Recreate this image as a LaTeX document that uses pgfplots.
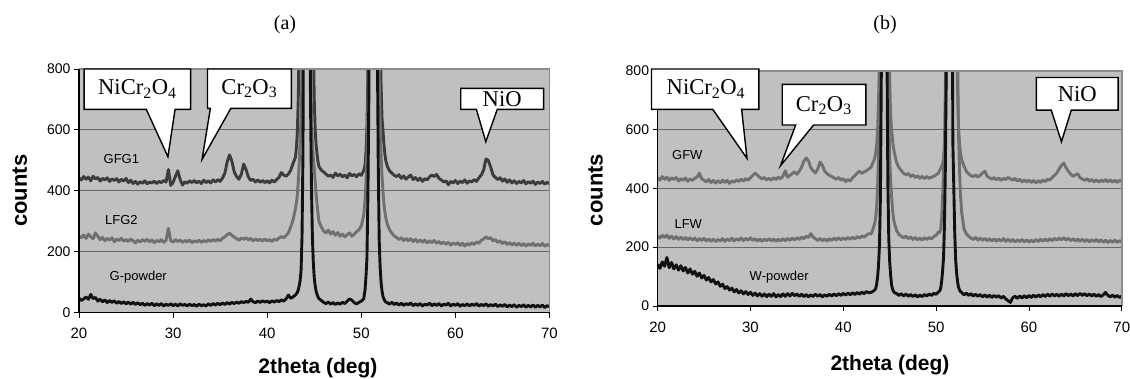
\documentclass[border=0pt]{standalone}
\usepackage{pgfplots}
\usepackage{pgfplotstable}
\pgfplotsset{compat=1.18}
\usepackage{fontspec}
\setmainfont{Liberation Serif}
\newfontfamily\arial{Liberation Sans}
\definecolor{bgc}{HTML}{C0C0C0}
\definecolor{gridc}{HTML}{686868}
\definecolor{framec}{HTML}{8C8C8C}
\definecolor{darkc}{HTML}{3C3C3C}
\definecolor{midc}{HTML}{707070}
\definecolor{blkc}{HTML}{111111}

\pgfplotstableread{
x g1 l2 gp
20.00 442 252 48
20.25 436 246 40
20.50 447 255 45
20.75 438 244 52
21.00 445 258 44
21.25 433 249 60
21.50 448 243 46
21.75 439 262 50
22.00 444 251 38
22.25 432 240 44
22.50 441 247 36
22.75 436 236 42
23.00 443 244 33
23.25 431 238 40
23.50 439 246 34
23.75 434 233 39
24.00 440 241 31
24.25 429 237 37
24.50 438 244 30
24.75 432 235 36
25.00 441 240 29
25.25 427 234 35
25.50 435 242 28
25.75 424 236 34
26.00 431 229 27
26.25 422 238 33
26.50 430 232 26
26.75 425 240 31
27.00 433 234 24
27.25 423 241 30
27.50 429 233 25
27.75 426 239 31
28.00 432 230 23
28.25 424 237 29
28.50 431 233 24
28.75 427 240 30
29.00 434 231 22
29.25 429 238 28
29.50 470 277 24
29.75 418 236 29
30.00 428 232 23
30.25 448 240 28
30.50 466 234 22
30.75 437 238 29
31.00 419 231 24
31.25 430 237 27
31.50 425 233 22
31.75 433 239 28
32.00 427 230 23
32.25 434 236 27
32.50 426 232 21
32.75 432 238 28
33.00 424 231 23
33.25 435 237 26
33.50 427 233 22
33.75 433 239 29
34.00 426 234 24
34.25 436 240 30
34.50 429 235 25
34.75 437 241 31
35.00 431 236 26
35.25 442 244 32
35.50 458 249 27
35.75 495 256 33
36.00 518 261 28
36.25 497 254 34
36.50 462 248 30
36.75 447 243 35
37.00 438 238 31
37.25 455 245 36
37.50 488 241 33
37.75 470 246 37
38.00 446 239 34
38.25 434 244 45
38.50 438 236 36
38.75 429 242 33
39.00 436 237 38
39.25 428 241 34
39.50 434 235 39
39.75 427 242 35
40.00 433 236 38
40.25 426 240 33
40.50 435 234 39
40.75 429 241 35
41.00 437 238 40
41.25 444 245 36
41.50 460 250 42
41.75 452 246 38
42.00 448 253 45
42.25 455 262 58
42.50 468 282 47
42.75 490 305 52
43.0 510 340 58
43.1 540 360 62
43.2 590 385 66
43.3 700 430 75
43.4 900 490 88
43.5 1200 560 105
43.6 1600 660 140
43.7 2200 820 250
43.8 3000 1100 520
43.9 3000 1600 1300
44.0 3000 2500 3000
44.1 3000 2500 3000
44.2 3000 2500 3000
44.3 3000 2500 3000
44.4 3000 2500 3000
44.5 3000 2500 1500
44.6 3000 1000 700
44.7 1900 640 420
44.8 1300 560 250
44.9 900 510 165
45.0 700 475 115
45.1 600 430 88
45.2 550 390 70
45.3 520 355 60
45.4 495 325 52
45.5 480 300 46
45.75 468 282 40
46.00 462 268 34
46.25 455 262 30
46.50 448 271 35
46.75 452 258 28
47.00 444 266 33
47.25 458 254 27
47.50 449 263 32
47.75 455 251 28
48.00 446 258 34
48.25 452 249 30
48.50 443 256 38
48.75 457 262 45
49.00 449 251 41
49.25 454 258 33
49.50 446 266 29
49.75 456 272 34
50.00 451 285 38
50.25 466 318 45
50.4 485 370 75
50.5 530 430 120
50.6 610 520 180
50.7 780 680 380
50.8 1100 950 700
50.9 1800 1500 1500
51.0 3000 2500 3000
51.1 3000 2500 3000
51.2 3000 2500 3000
51.3 3000 2500 3000
51.4 3000 2500 3000
51.5 3000 2500 3000
51.6 3000 2500 1800
51.7 3000 1600 900
51.8 2000 1050 490
51.9 1300 780 240
52.0 950 620 150
52.1 750 520 100
52.2 640 450 72
52.3 600 400 54
52.4 555 360 45
52.5 522 332 39
52.6 500 312 35
52.75 482 292 33
53.00 466 272 28
53.25 458 261 34
53.50 451 252 27
53.75 447 247 32
54.00 453 240 25
54.25 441 246 31
54.50 449 237 24
54.75 438 244 30
55.00 446 236 26
55.25 452 243 32
55.50 437 234 23
55.75 444 241 29
56.00 434 232 24
56.25 442 239 30
56.50 431 231 22
56.75 440 238 28
57.00 436 229 25
57.25 446 236 31
57.50 452 230 23
57.75 447 237 29
58.00 454 228 24
58.25 441 234 30
58.50 436 226 22
58.75 429 232 28
59.00 433 225 25
59.25 420 231 31
59.50 431 222 22
59.75 426 229 28
60.00 434 224 24
60.25 424 230 30
60.50 432 221 21
60.75 427 228 27
61.00 436 219 23
61.25 425 227 29
61.50 433 222 22
61.75 429 230 28
62.00 437 224 24
62.25 431 232 30
62.50 443 228 22
62.75 452 238 27
63.00 468 242 23
63.25 505 249 29
63.50 500 243 21
63.75 478 246 27
64.00 452 236 22
64.25 444 240 28
64.50 437 231 20
64.75 443 236 26
65.00 432 227 21
65.25 439 233 27
65.50 428 224 19
65.75 436 230 25
66.00 426 222 20
66.25 433 229 26
66.50 424 221 18
66.75 431 228 24
67.00 426 220 20
67.25 434 227 26
67.50 423 219 18
67.75 430 226 24
68.00 425 221 19
68.25 432 228 25
68.50 421 219 18
68.75 429 225 24
69.00 424 220 19
69.25 431 227 25
69.50 422 218 17
69.75 428 224 23
70.00 424 220 20
}\tabA

\pgfplotstableread{
x gf lf wp
20.00 436 238 142
20.25 428 231 128
20.50 440 240 150
20.75 431 233 135
21.00 438 241 165
21.25 427 230 130
21.50 436 237 148
21.75 430 228 126
22.00 437 236 140
22.25 425 227 122
22.50 433 234 137
22.75 428 226 119
23.00 435 233 131
23.25 424 225 112
23.50 432 232 126
23.75 427 224 108
24.00 434 231 118
24.25 438 222 101
24.50 452 229 112
24.75 432 223 95
25.00 428 230 104
25.25 422 221 88
25.50 430 228 97
25.75 420 220 82
26.00 427 227 90
26.25 418 219 75
26.50 426 226 82
26.75 419 221 67
27.00 428 229 74
27.25 420 220 59
27.50 427 228 66
27.75 417 222 54
28.00 425 230 61
28.25 421 221 48
28.50 429 229 56
28.75 423 223 44
29.00 431 231 52
29.25 425 222 41
29.50 433 230 49
29.75 428 224 39
30.00 436 232 47
30.25 444 223 36
30.50 452 229 44
30.75 445 221 34
31.00 438 228 42
31.25 432 220 33
31.50 437 227 41
31.75 429 222 32
32.00 434 229 40
32.25 428 221 33
32.50 436 228 42
32.75 430 220 31
33.00 438 227 39
33.25 433 221 32
33.50 441 229 41
33.75 460 222 33
34.00 438 230 42
34.25 444 223 34
34.50 450 231 43
34.75 456 224 35
35.00 448 232 41
35.25 458 226 33
35.50 472 234 40
35.75 492 229 32
36.00 503 237 39
36.25 494 233 31
36.50 470 246 38
36.75 460 234 32
37.00 452 229 40
37.25 466 223 33
37.50 490 230 39
37.75 478 222 31
38.00 458 228 38
38.25 450 221 33
38.50 444 229 40
38.75 440 223 34
39.00 436 231 41
39.25 431 224 35
39.50 437 232 42
39.75 428 225 36
40.00 433 231 43
40.25 423 226 37
40.50 430 233 44
40.75 425 227 38
41.00 436 234 45
41.25 443 228 39
41.50 452 236 46
41.75 458 231 40
42.00 451 238 47
42.25 456 234 42
42.50 460 241 49
42.75 466 246 45
43.0 472 245 46
43.1 480 252 48
43.2 488 262 50
43.3 494 272 52
43.4 505 283 55
43.5 525 305 60
43.6 550 340 75
43.7 600 410 100
43.8 700 520 140
43.9 850 700 210
44.0 1200 1000 370
44.1 2500 2500 800
44.2 2500 2500 3000
44.3 2500 2500 3000
44.4 2500 2500 3000
44.5 2500 2500 3000
44.6 2500 2500 3000
44.7 2500 2500 900
44.8 2500 1500 420
44.9 1000 650 230
45.0 760 500 150
45.1 650 425 105
45.2 600 375 72
45.3 565 330 58
45.4 540 300 50
45.5 522 282 46
45.75 488 256 42
46.00 470 243 36
46.25 460 237 42
46.50 451 232 34
46.75 446 238 41
47.00 451 229 33
47.25 440 235 39
47.50 446 226 32
47.75 437 233 38
48.00 443 225 31
48.25 434 231 37
48.50 441 224 32
48.75 433 232 39
49.00 440 226 34
49.25 434 233 41
49.50 438 228 36
49.75 441 236 43
50.00 446 240 40
50.25 452 252 48
50.4 462 250 52
50.5 468 262 62
50.6 475 300 85
50.7 483 372 120
50.8 500 460 165
50.9 540 560 280
51.0 620 750 480
51.1 800 1100 850
51.2 1300 2500 3000
51.3 2500 2500 3000
51.4 2500 2500 3000
51.5 2500 2500 3000
51.6 2500 2500 3000
51.7 2500 2500 1500
51.8 2500 2500 560
51.9 2500 2500 410
52.0 2500 2500 255
52.1 2500 2500 160
52.2 1100 2500 115
52.3 750 900 85
52.4 620 600 65
52.5 560 485 56
52.6 525 390 50
52.75 498 320 46
53.00 475 262 38
53.25 458 246 44
53.50 449 237 36
53.75 443 231 42
54.00 440 226 34
54.25 446 233 40
54.50 438 224 33
54.75 445 231 39
55.00 452 223 31
55.25 458 230 38
55.50 441 222 30
55.75 436 229 37
56.00 431 221 29
56.25 437 228 36
56.50 429 220 30
56.75 435 227 35
57.00 427 221 27
57.25 434 229 33
57.50 430 220 24
57.75 437 227 18
58.00 432 219 12
58.25 428 226 28
58.50 434 218 33
58.75 425 225 26
59.00 431 219 34
59.25 422 226 27
59.50 429 218 35
59.75 421 225 28
60.00 428 217 36
60.25 420 224 29
60.50 427 218 37
60.75 419 226 30
61.00 426 219 38
61.25 420 227 31
61.50 428 220 39
61.75 423 228 32
62.00 431 221 40
62.25 428 229 33
62.50 437 222 41
62.75 444 230 34
63.00 452 224 40
63.25 466 231 33
63.50 478 225 41
63.75 486 232 34
64.00 470 224 42
64.25 458 230 35
64.50 448 222 41
64.75 441 229 34
65.00 446 221 42
65.25 450 228 35
65.50 436 220 43
65.75 432 227 36
66.00 427 219 42
66.25 433 226 35
66.50 424 218 41
66.75 430 225 34
67.00 422 219 40
67.25 429 226 33
67.50 421 218 39
67.75 428 225 32
68.00 423 217 38
68.25 430 224 46
68.50 422 216 36
68.75 429 223 31
69.00 421 217 37
69.25 428 224 30
69.50 420 216 36
69.75 427 222 29
70.00 424 218 34
}\tabB

\pgfplotsset{
  xrdaxis/.style={
    anchor=south west, scale only axis,
    xmin=20, xmax=70, ymin=0, ymax=800,
    xtick={20,30,40,50,60,70}, ytick={0,200,400,600,800},
    xtick pos=bottom, ytick pos=left,
    tick align=outside, major tick length=5pt,
    tick style={black, line width=0.9pt},
    ymajorgrids, grid style={color=gridc, line width=1pt},
    axis background/.style={fill=bgc},
    axis line style={draw=none},
    ticklabel style={text=black},
    yticklabel style={font=\arial\fontsize{14}{15}\selectfont},
    xticklabel style={font=\arial\fontsize{15}{16}\selectfont, yshift=-7pt},
    /pgf/number format/assume math mode=true,
    clip mode=individual,
    every axis plot/.append style={line width=2.9pt, line join=round, mark=none},
  },
}
\tikzset{callout/.style={draw=black, fill=white, line width=1.4pt, line join=miter}}
\newcommand{\callfont}{\fontsize{22.6}{24}\selectfont}
\newcommand{\labfont}{\arial\fontsize{13}{14}\selectfont}

\begin{document}
\begin{tikzpicture}
\useasboundingbox (0pt,0pt) rectangle (1130pt,379pt);

% ---------- panel (a)
\begin{axis}[xrdaxis, at={(79pt,66.3pt)}, width=470.5pt, height=243.7pt]
\addplot[darkc] table[x=x,y=g1] {\tabA};
\addplot[midc] table[x=x,y=l2] {\tabA};
\addplot[blkc] table[x=x,y=gp] {\tabA};
\draw[framec, line width=1.8pt] (rel axis cs:0,1) -- (rel axis cs:1,1) -- (rel axis cs:1,0);
\draw[black, line width=1.1pt] (rel axis cs:0,1) -- (rel axis cs:0,0) -- (rel axis cs:1,0);
\draw[callout] (axis cs:20.54,667.6) -- (axis cs:27.15,667.6) -- (axis cs:29.45,512) -- (axis cs:30.21,667.6) -- (axis cs:31.86,667.6) -- (axis cs:31.86,800) -- (axis cs:20.54,800) -- cycle;
\node[font=\callfont] at (axis cs:26.2,734) {NiCr\textsubscript{2}O\textsubscript{4}};
\draw[callout] (axis cs:33.66,670.9) -- (axis cs:33.96,670.9) -- (axis cs:33.08,503.4) -- (axis cs:36.14,670.9) -- (axis cs:42.57,670.9) -- (axis cs:42.57,800) -- (axis cs:33.66,800) -- cycle;
\node[font=\callfont] at (axis cs:38.1,735) {Cr\textsubscript{2}O\textsubscript{3}};
\draw[callout] (axis cs:60.57,667.6) -- (axis cs:62.23,667.6) -- (axis cs:63.23,561.4) -- (axis cs:64.45,667.6) -- (axis cs:69.37,667.6) -- (axis cs:69.37,736.5) -- (axis cs:60.57,736.5) -- cycle;
\node[font=\callfont] at (axis cs:64.97,702) {NiO};
\node[font=\labfont] at (axis cs:24.5,503) {GFG1};
\node[font=\labfont] at (axis cs:24.5,304) {LFG2};
\node[font=\labfont] at (axis cs:26.3,116) {G-powder};
\end{axis}

% ---------- panel (b)
\begin{axis}[xrdaxis, at={(657.6pt,73pt)}, width=464.2pt, height=235.3pt]
\addplot[midc] table[x=x,y=gf] {\tabB};
\addplot[midc] table[x=x,y=lf] {\tabB};
\addplot[blkc] table[x=x,y=wp] {\tabB};
\draw[framec, line width=1.8pt] (rel axis cs:0,1) -- (rel axis cs:1,1) -- (rel axis cs:1,0);
\draw[black, line width=1.1pt] (rel axis cs:0,1) -- (rel axis cs:0,0) -- (rel axis cs:1,0);
\draw[callout] (axis cs:19.34,668.6) -- (axis cs:25.94,668.6) -- (axis cs:29.63,502) -- (axis cs:29.05,668.6) -- (axis cs:30.9,668.6) -- (axis cs:30.9,805.7) -- (axis cs:19.34,805.7) -- cycle;
\node[font=\callfont] at (axis cs:25.2,738) {NiCr\textsubscript{2}O\textsubscript{4}};
\draw[callout] (axis cs:33.43,615.3) -- (axis cs:34.87,615.3) -- (axis cs:33.24,477) -- (axis cs:36.8,615.3) -- (axis cs:42.44,615.3) -- (axis cs:42.44,753.5) -- (axis cs:33.43,753.5) -- cycle;
\node[font=\callfont] at (axis cs:37.9,682) {Cr\textsubscript{2}O\textsubscript{3}};
\draw[callout] (axis cs:60.8,666) -- (axis cs:62.4,666) -- (axis cs:63.5,558.6) -- (axis cs:64.56,666) -- (axis cs:69.6,666) -- (axis cs:69.6,777) -- (axis cs:60.8,777) -- cycle;
\node[font=\callfont] at (axis cs:65.2,720) {NiO};
\node[font=\labfont] at (axis cs:23.2,515) {GFW};
\node[font=\labfont] at (axis cs:23.3,279) {LFW};
\node[font=\labfont] at (axis cs:33.1,97) {W-powder};
\end{axis}

% ---------- titles and axis labels
\node[font=\fontsize{20}{22}\selectfont] at (285pt,354pt) {(a)};
\node[font=\fontsize{20}{22}\selectfont] at (885pt,354pt) {(b)};
\node[font=\arial\bfseries\fontsize{22}{24}\selectfont, rotate=90] at (19.8pt,188.3pt) {counts};
\node[font=\arial\bfseries\fontsize{22}{24}\selectfont, rotate=90] at (595.6pt,189pt) {counts};
\node[font=\arial\bfseries\fontsize{21}{23}\selectfont, anchor=base] at (318pt,5.6pt) {2theta (deg)};
\node[font=\arial\bfseries\fontsize{21}{23}\selectfont, anchor=base] at (890pt,8pt) {2theta (deg)};
\end{tikzpicture}
\end{document}
